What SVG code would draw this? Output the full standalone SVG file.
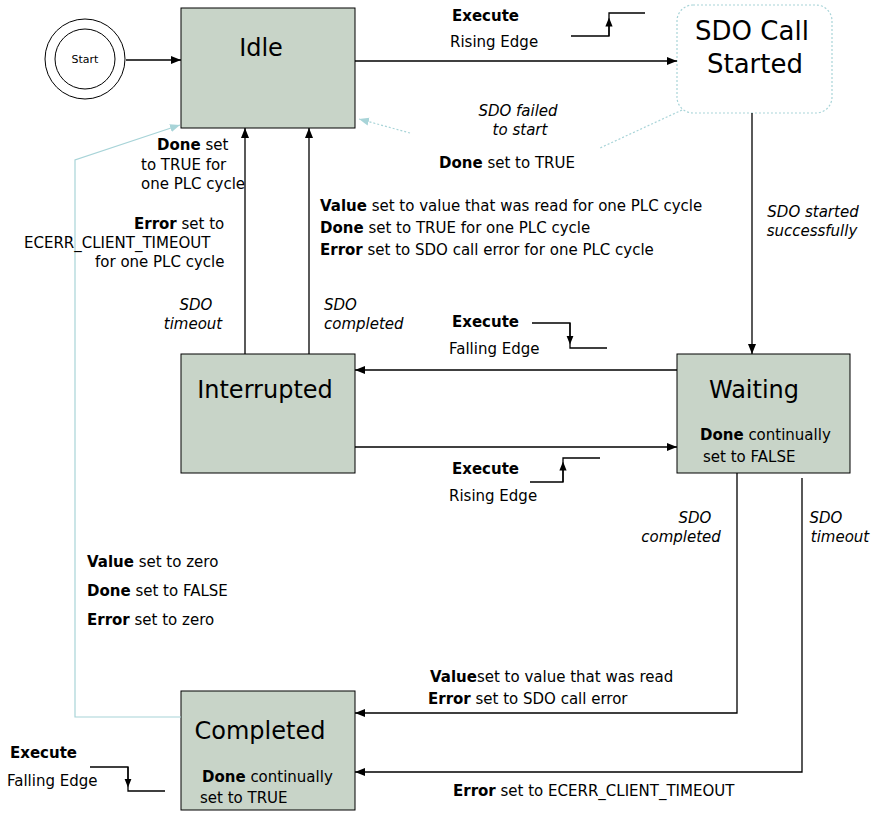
<svg xmlns="http://www.w3.org/2000/svg" width="875" height="818" viewBox="0 0 875 818">
<style>
text{font-family:"DejaVu Sans",Verdana,sans-serif;font-size:15px;fill:#000}
.b{font-weight:bold}
.i{font-style:italic}
.st{fill:#c8d4c8;stroke:#000;stroke-width:1}
.t{font-size:24px}
.c{fill:none;stroke:#000;stroke-width:1.3}
.lb{fill:none;stroke:#a8d4d8;stroke-width:1.2}
.dt{fill:none;stroke:#a8d4d8;stroke-width:1.2;stroke-dasharray:2 2}
</style>
<defs>
<marker id="a" viewBox="0 0 10 10" refX="10" refY="5" markerWidth="10" markerHeight="10" orient="auto" markerUnits="userSpaceOnUse"><path d="M0,1 L10,5 L0,9z" fill="#000"/></marker>
<marker id="m" viewBox="0 0 10 10" refX="5" refY="5" markerWidth="9" markerHeight="9" orient="auto" markerUnits="userSpaceOnUse"><path d="M0,1 L10,5 L0,9z" fill="#000"/></marker>
<marker id="al" viewBox="0 0 10 10" refX="10" refY="5" markerWidth="10" markerHeight="10" orient="auto" markerUnits="userSpaceOnUse"><path d="M0,1 L10,5 L0,9z" fill="#a8d4d8"/></marker>
</defs>
<g id="start"><circle cx="85" cy="59" r="40" fill="#fff" stroke="#000"/><circle cx="85" cy="59" r="30" fill="#fff" stroke="#000"/><text x="85" y="63" text-anchor="middle" style="font-size:11px">Start</text></g>
<g id="idle"><rect class="st" x="181" y="8" width="174" height="120"/><text class="t" x="261" y="56" text-anchor="middle">Idle</text></g>
<g id="sdo"><rect x="677" y="5" width="155" height="108" rx="16" fill="#fff" class="dt"/><text x="752" y="40" text-anchor="middle" style="font-size:26px">SDO Call</text><text x="755" y="73" text-anchor="middle" style="font-size:26px">Started</text></g>
<g id="waiting"><rect class="st" x="677" y="354" width="173" height="119"/><text class="t" x="754" y="398" text-anchor="middle">Waiting</text><text x="700" y="440"><tspan class="b">Done</tspan> continually</text><text x="703" y="462">set to FALSE</text></g>
<g id="interrupted"><rect class="st" x="181" y="354" width="174" height="119"/><text class="t" x="265" y="398" text-anchor="middle">Interrupted</text></g>
<g id="completed"><rect class="st" x="181" y="691" width="174" height="119"/><text class="t" x="260" y="739" text-anchor="middle">Completed</text><text x="202" y="782"><tspan class="b">Done</tspan> continually</text><text x="200" y="803">set to TRUE</text></g>
<g id="connectors">
<line class="c" x1="126" y1="60" x2="181" y2="60" marker-end="url(#a)"/>
<line class="c" x1="355" y1="61" x2="677" y2="61" marker-end="url(#a)"/>
<line class="dt" x1="682" y1="110" x2="600" y2="148"/>
<line class="dt" x1="410" y1="133" x2="359" y2="119" marker-end="url(#al)"/>
<line class="c" x1="752" y1="113" x2="752" y2="354" marker-end="url(#a)"/>
<line class="c" x1="677" y1="370" x2="355" y2="370" marker-end="url(#a)"/>
<line class="c" x1="355" y1="447" x2="677" y2="447" marker-end="url(#a)"/>
<line class="c" x1="245" y1="354" x2="245" y2="128" marker-end="url(#a)"/>
<line class="c" x1="309" y1="354" x2="309" y2="128" marker-end="url(#a)"/>
<polyline class="c" points="737,473 737,713 355,713" marker-end="url(#a)"/>
<polyline class="c" points="802,478 802,772 355,772" marker-end="url(#a)"/>
<polyline class="lb" points="181,717 75,717 75,160 180,125" marker-end="url(#al)"/>
<polyline class="c" points="571,36 609,36 609,13 645,13"/><line class="c" x1="609" y1="36" x2="609" y2="22" marker-end="url(#m)"/>
<polyline class="c" points="532,323 570,323 570,348 607,348"/><line class="c" x1="570" y1="323" x2="570" y2="340" marker-end="url(#m)"/>
<polyline class="c" points="530,482 563,482 563,458 600,458"/><line class="c" x1="563" y1="482" x2="563" y2="466" marker-end="url(#m)"/>
<polyline class="c" points="90,767 128,767 128,791 165,791"/><line class="c" x1="128" y1="767" x2="128" y2="783" marker-end="url(#m)"/>
</g>
<g id="labels">
<text class="b" x="452" y="21">Execute</text><text x="450" y="47">Rising Edge</text>
<text class="i" x="518" y="116" text-anchor="middle">SDO failed</text><text class="i" x="520" y="135" text-anchor="middle">to start</text>
<text x="439" y="168"><tspan class="b">Done</tspan> set to TRUE</text>
<text x="157" y="150"><tspan class="b">Done</tspan> set</text><text x="141" y="170">to TRUE for</text><text x="141" y="189">one PLC cycle</text>
<text x="134" y="229"><tspan class="b">Error</tspan> set to</text><text x="24" y="248">ECERR_CLIENT_TIMEOUT</text><text x="95" y="267">for one PLC cycle</text>
<text x="320" y="211"><tspan class="b">Value</tspan> set to value that was read for one PLC cycle</text>
<text x="320" y="233"><tspan class="b">Done</tspan> set to TRUE for one PLC cycle</text>
<text x="320" y="255"><tspan class="b">Error</tspan> set to SDO call error for one PLC cycle</text>
<text class="i" x="813" y="217" text-anchor="middle">SDO started</text><text class="i" x="812" y="236" text-anchor="middle">successfully</text>
<text class="i" x="196" y="310" text-anchor="middle">SDO</text><text class="i" x="193" y="329" text-anchor="middle">timeout</text>
<text class="i" x="324" y="310">SDO</text><text class="i" x="324" y="329">completed</text>
<text class="b" x="452" y="327">Execute</text><text x="449" y="354">Falling Edge</text>
<text class="b" x="452" y="474">Execute</text><text x="449" y="501">Rising Edge</text>
<text class="i" x="695" y="523" text-anchor="middle">SDO</text><text class="i" x="681" y="542" text-anchor="middle">completed</text>
<text class="i" x="826" y="523" text-anchor="middle">SDO</text><text class="i" x="840" y="542" text-anchor="middle">timeout</text>
<text x="87" y="567"><tspan class="b">Value</tspan> set to zero</text>
<text x="87" y="596"><tspan class="b">Done</tspan> set to FALSE</text>
<text x="87" y="625"><tspan class="b">Error</tspan> set to zero</text>
<text x="430" y="682"><tspan class="b">Value</tspan>set to value that was read</text>
<text x="428" y="704"><tspan class="b">Error</tspan> set to SDO call error</text>
<text x="453" y="796"><tspan class="b">Error</tspan> set to ECERR_CLIENT_TIMEOUT</text>
<text class="b" x="10" y="758">Execute</text><text x="7" y="786">Falling Edge</text>
</g>
</svg>
